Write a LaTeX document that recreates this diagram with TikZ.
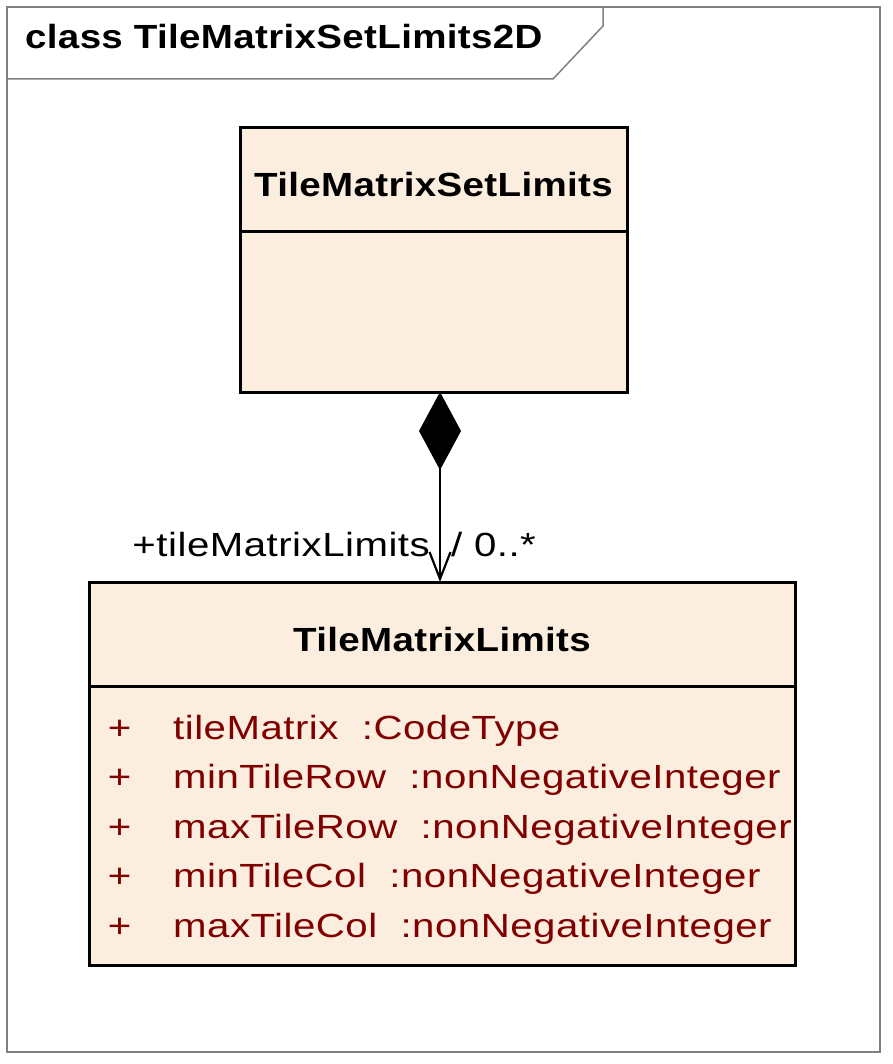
\documentclass[tikz,border=0pt]{standalone}
\usepackage{fontspec}
\setmainfont{Liberation Sans}
\newfontfamily\umlfont[FakeStretch=1.2, LetterSpace=1.5]{Liberation Sans}
\newfontfamily\umlnamefont[FakeStretch=1.15, LetterSpace=1]{Liberation Sans}
\usetikzlibrary{arrows.meta}

\definecolor{classfill}{RGB}{252,238,223}
\definecolor{attrred}{RGB}{128,0,0}
\definecolor{framegray}{RGB}{128,128,128}

\tikzset{
	classbox/.style={draw=black, line width=3pt, fill=classfill, inner sep=0pt, outer sep=0pt},
	divider/.style={draw=black, line width=3pt},
	classname/.style={font=\umlnamefont\bfseries\fontsize{33.5}{40}\selectfont, inner sep=0pt, anchor=base},
	attr/.style={font=\umlfont\fontsize{33.5}{40}\selectfont, text=attrred, inner sep=0pt},
	rolelabel/.style={font=\umlfont\fontsize{33.5}{40}\selectfont, inner sep=0pt},
	framebox/.style={draw=framegray, line width=1.5pt},
	composition/.style={line width=2.2pt, {Diamond[length=78pt, width=42pt]}-{Straight Barb[length=27pt, width=21pt]}}
}

\begin{document}
\begin{tikzpicture}[x=1pt, y=-1pt]
		\useasboundingbox (0,0) rectangle (892,1064);
		% Diagram frame with its name tab
		\def\tabh{79}
		\draw[framebox] (7,7) rectangle (880,1052);
		\draw[framebox] (7,\tabh) -- (553,\tabh) -- (603,26) -- (603,7);
		\node[classname, anchor=base west] (frametitle) at (25,49) {class TileMatrixSetLimits2D};
		
		% Header height of both classes
		\def\headh{104pt}
		
		% Owner class
		\node[classbox, minimum width=387pt, minimum height=264pt] (tmsl) at (433.5,260) {};
		\draw[divider] ([yshift=-\headh]tmsl.north west) -- ([yshift=-\headh]tmsl.north east);
		\node[classname] (tmslname) at ([yshift=-69pt]tmsl.north) {TileMatrixSetLimits};
		
		% Part class
		\node[classbox, minimum width=706pt, minimum height=383pt] (tml) at (442,773.5) {};
		\draw[divider] ([yshift=-\headh]tml.north west) -- ([yshift=-\headh]tml.north east);
		\node[classname] (tmlname) at ([yshift=-69pt]tml.north) {TileMatrixLimits};
		
		% Attributes of the part class
		\foreach \a/\t [count=\n] in {tileMatrix/CodeType, minTileRow/nonNegativeInteger, maxTileRow/nonNegativeInteger, minTileCol/nonNegativeInteger, maxTileCol/nonNegativeInteger} {
			\node[attr, anchor=base] (plus\n) at (119.5,689.5+49.5*\n) {+};
			\node[attr, anchor=base west] (attr\n) at (173,689.5+49.5*\n) {\a\ \ :\t};
		}
		
		% Composition between the two classes
		\coordinate (lnk) at (440,0);
		\draw[composition] (tmsl.south -| lnk) -- (tml.north -| lnk);
		\node[rolelabel, anchor=base east] (role) at (430,556) {+tileMatrixLimits};
		\node[rolelabel, anchor=base west] (mult) at (451,556) {/ 0..*};
\end{tikzpicture}
\end{document}
